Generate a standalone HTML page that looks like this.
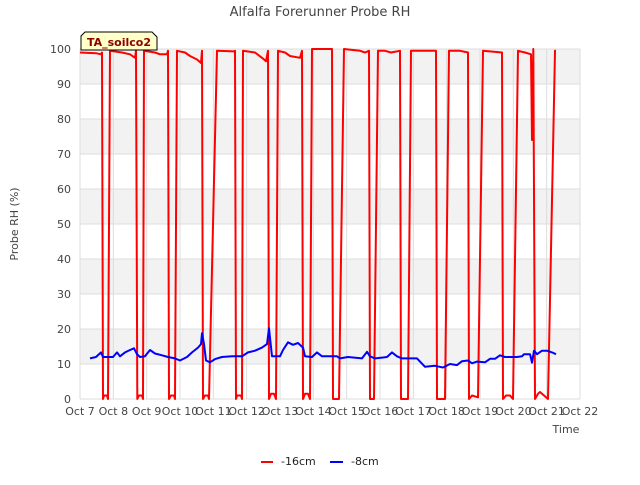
<!DOCTYPE html>
<html><head><meta charset="utf-8"><style>
body{margin:0;background:#fff}
svg text{font-family:"DejaVu Sans","Liberation Sans",sans-serif}
</style></head><body>
<svg id="chart" width="640" height="480" viewBox="0 0 640 480">
<text x="320" y="16" text-anchor="middle" font-size="13" fill="#444">Alfalfa Forerunner Probe RH</text>
<g id="bands"></g><g id="grid"></g>
<g id="yticks" font-size="11" fill="#444"></g>
<g id="xticks" font-size="11" fill="#444"></g>
<text transform="translate(18,224) rotate(-90)" text-anchor="middle" font-size="11" fill="#444">Probe RH (%)</text>
<text x="566" y="433" text-anchor="middle" font-size="11" fill="#444">Time</text>
<g id="series"></g>
<g>
<path d="M85,32 L152,32 L157,37 L157,50 L81,50 L81,36 Z" fill="#ffffc8" stroke="#000" stroke-width="1"/>
<text x="119" y="46" text-anchor="middle" font-size="11" font-weight="bold" fill="#8b0000">TA_soilco2</text>
</g>
<g font-size="11" fill="#222">
<g><line x1="261" y1="462" x2="273" y2="462" stroke="#f00" stroke-width="2"/><text x="281" y="465">-16cm</text></g>
<g><line x1="330" y1="462" x2="343" y2="462" stroke="#00f" stroke-width="2"/><text x="351" y="465">-8cm</text></g>
</g>
</svg>
<script>
const xTickLabels=["Oct 7","Oct 8","Oct 9","Oct 10","Oct 11","Oct 12","Oct 13","Oct 14","Oct 15","Oct 16","Oct 17","Oct 18","Oct 19","Oct 20","Oct 21","Oct 22"];
const yTickValues=[0,10,20,30,40,50,60,70,80,90,100];
const redDays=[0,0.48,0.63,0.66,0.69,0.72,0.81,0.84,0.9,1.26,1.5,1.65,1.68,1.72,1.77,1.86,1.89,1.92,2.25,2.4,2.61,2.64,2.67,2.73,2.82,2.85,2.91,3.15,3.3,3.51,3.63,3.66,3.69,3.75,3.84,3.87,4.11,4.62,4.65,4.68,4.71,4.83,4.86,4.89,5.25,5.46,5.58,5.64,5.67,5.73,5.82,5.88,5.94,6.15,6.3,6.6,6.66,6.69,6.75,6.84,6.9,6.96,7.56,7.59,7.77,7.92,8.4,8.55,8.67,8.7,8.82,8.94,9.15,9.33,9.6,9.63,9.84,9.93,10.68,10.71,10.95,11.07,11.4,11.64,11.67,11.76,11.94,12.09,12.66,12.69,12.78,12.9,12.99,13.14,13.35,13.53,13.56,13.6,13.65,13.74,13.8,13.98,14.04,14.25,14.28];
const redValues=[99,98.8,98.5,99,0,1,1,0,99.5,99,98.5,97.5,99.5,0,1,1,0,99.5,99,98.5,98.5,99.5,0,1,1,0,99.5,99,98,97,96,99.5,0,1,1,0,99.5,99.3,99.5,0,1,1,0,99.5,99,97.5,96.5,99.5,0,1.5,1.5,0,99.5,99,98,97.5,99.5,0,1.5,1.5,0,100,100,0,0,100,99.5,99,99.5,0,0,99.5,99.5,99,99.5,0,0,99.5,99.5,0,0,99.5,99.5,99,0,1,0.5,99.5,99,0,1,1,0,99.5,99,98.5,74,100,0,1.5,2,0.5,0,99.5,99.5];
const blueDays=[0.3,0.48,0.63,0.69,0.99,1.11,1.2,1.35,1.5,1.62,1.71,1.8,1.95,2.1,2.25,2.46,2.64,2.85,3.0,3.21,3.36,3.54,3.63,3.66,3.72,3.78,3.9,4.05,4.26,4.56,4.86,5.04,5.25,5.46,5.61,5.67,5.76,6.0,6.09,6.24,6.39,6.54,6.69,6.75,6.96,7.11,7.26,7.44,7.71,7.8,8.04,8.46,8.61,8.7,8.85,9.21,9.36,9.51,9.66,10.11,10.35,10.65,10.89,11.1,11.31,11.46,11.64,11.76,11.91,12.15,12.3,12.45,12.6,12.75,13.11,13.26,13.32,13.5,13.56,13.62,13.71,13.86,14.01,14.16,14.28];
const blueValues=[11.6,12,13.3,12,12,13.3,12.2,13.3,14,14.5,12.8,12,12.2,14,13,12.5,12,11.6,11,12,13.3,14.7,15.7,18.8,15.7,11,10.5,11.4,12,12.2,12.2,13.3,13.8,14.7,15.7,20.2,12.2,12.2,14,16.2,15.5,16,14.7,12.2,12,13.3,12.2,12.2,12.2,11.6,12,11.6,13.5,12.2,11.6,12,13.3,12.2,11.6,11.6,9.2,9.5,9,10,9.7,10.8,11,10.2,10.7,10.5,11.5,11.5,12.5,12,12,12.2,12.8,12.8,10.4,13.8,12.8,13.8,13.8,13.3,12.8];
const X0=80,X1=580,Y0=399,Y1=49;
const xs=d=>X0+d*(X1-X0)/15, ys=v=>Y0-v*(Y0-Y1)/100;
const NS="http://www.w3.org/2000/svg";
function mk(t,a,p){const e=document.createElementNS(NS,t);for(const k in a)e.setAttribute(k,a[k]);p.appendChild(e);return e;}
const bands=document.getElementById('bands'),grid=document.getElementById('grid');
mk('rect',{x:X0,y:Y1,width:X1-X0,height:Y0-Y1,fill:'#fff'},bands);
for(let v=10;v<100;v+=20){const r=mk('rect',{x:X0,y:ys(v+10),width:X1-X0,height:ys(v)-ys(v+10),fill:'#f2f2f2'},bands);

}
const yt=document.getElementById('yticks');
yTickValues.forEach(v=>{const l=mk('line',{x1:X0,x2:X1,y1:ys(v),y2:ys(v),stroke:'#ddd'},grid);


const t=mk('text',{x:X0-9,y:ys(v)+4,'text-anchor':'end'},yt);t.textContent=v;

});
const xt=document.getElementById('xticks');
xTickLabels.forEach((s,i)=>{const l=mk('line',{x1:xs(i),x2:xs(i),y1:Y1,y2:Y0,stroke:'#ddd'},grid);


const t=mk('text',{x:xs(i),y:415,'text-anchor':'middle'},xt);t.textContent=s;

});
const sg=document.getElementById('series');
function line(ds,vs,c,name){const p=mk('polyline',{points:ds.map((d,i)=>xs(d).toFixed(1)+','+ys(vs[i]).toFixed(1)).join(' '),fill:'none',stroke:c,'stroke-width':2,'stroke-linejoin':'round'},sg);

}
line(redDays,redValues,'#f00','series-16cm');
line(blueDays,blueValues,'#00f','series-8cm');
</script>
</body></html>
